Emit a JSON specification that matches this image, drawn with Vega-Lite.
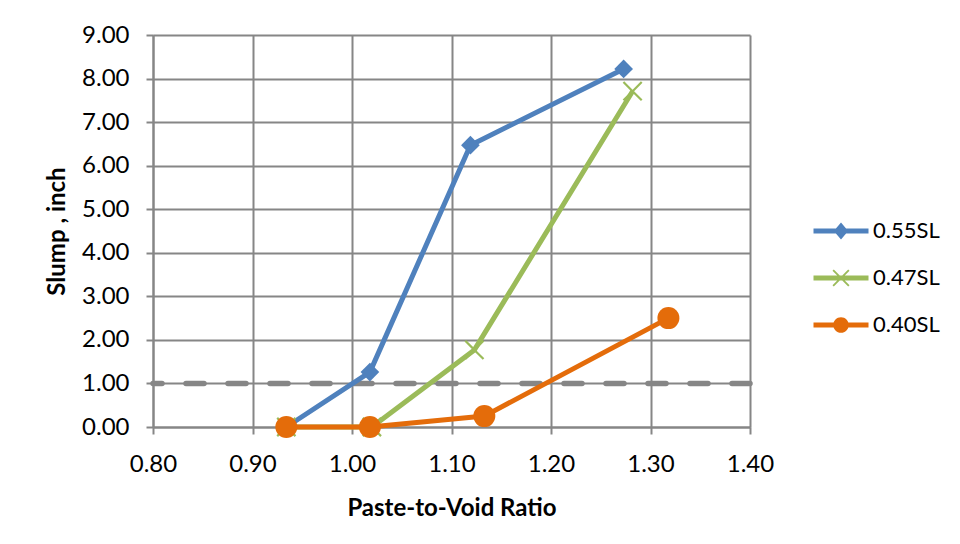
{
  "$schema": "https://vega.github.io/schema/vega-lite/v6.json",
  "width": 597,
  "height": 392,
  "autosize": {"type": "none"},
  "padding": {"left": 153, "top": 35, "right": 210, "bottom": 117},
  "background": "white",
  "config": {
    "view": {"stroke": null},
    "font": "Lato",
    "axis": {
      "grid": true,
      "gridColor": "#868686",
      "gridWidth": 2,
      "domainColor": "#868686",
      "domainWidth": 2,
      "tickColor": "#868686",
      "tickWidth": 2,
      "tickSize": 7,
      "labelFont": "Lato",
      "labelFontSize": 24,
      "labelColor": "#000000",
      "labelOverlap": false,
      "labelFlush": false,
      "labelBound": false,
      "titleFont": "Lato",
      "titleFontWeight": "bold",
      "titleFontSize": 24,
      "titleColor": "#000000"
    }
  },
  "datasets": {
    "slump": [
      {"series": "0.55SL", "ratio": 0.934, "slump": 0.0},
      {"series": "0.55SL", "ratio": 1.018, "slump": 1.26},
      {"series": "0.55SL", "ratio": 1.119, "slump": 6.47},
      {"series": "0.55SL", "ratio": 1.273, "slump": 8.22},
      {"series": "0.47SL", "ratio": 0.934, "slump": 0.0},
      {"series": "0.47SL", "ratio": 1.02, "slump": 0.0},
      {"series": "0.47SL", "ratio": 1.123, "slump": 1.77},
      {"series": "0.47SL", "ratio": 1.282, "slump": 7.71},
      {"series": "0.40SL", "ratio": 0.934, "slump": 0.0},
      {"series": "0.40SL", "ratio": 1.018, "slump": 0.0},
      {"series": "0.40SL", "ratio": 1.133, "slump": 0.25},
      {"series": "0.40SL", "ratio": 1.318, "slump": 2.5}
    ],
    "threshold": [{"slump": 1.0}]
  },
  "layer": [
    {
      "data": {"name": "threshold"},
      "mark": {"type": "rule", "color": "#868686", "strokeWidth": 5.5, "strokeDash": [18, 24], "strokeCap": "round"},
      "encoding": {
        "y": {"field": "slump", "type": "quantitative", "scale": {"domain": [0, 9]}}
      }
    },
    {
      "data": {"name": "slump"},
      "mark": {"type": "line", "strokeWidth": 5, "strokeJoin": "round"},
      "encoding": {
        "x": {
          "field": "ratio", "type": "quantitative",
          "scale": {"domain": [0.8, 1.4], "nice": false, "zero": false},
          "axis": {"values": [0.8, 0.9, 1.0, 1.1, 1.2, 1.3, 1.4], "format": ".2f", "labelPadding": 18, "titlePadding": 20, "title": "Paste-to-Void Ratio"}
        },
        "y": {
          "field": "slump", "type": "quantitative",
          "scale": {"domain": [0, 9], "nice": false},
          "axis": {"values": [0, 1, 2, 3, 4, 5, 6, 7, 8, 9], "format": ".2f", "labelPadding": 17, "titlePadding": 12, "title": "Slump , inch"}
        },
        "color": {
          "field": "series", "type": "nominal",
          "scale": {"domain": ["0.55SL", "0.47SL", "0.40SL"], "range": ["#4F81BD", "#9BBB59", "#E46C0A"]}
        }
      }
    },
    {
      "data": {"name": "slump"},
      "transform": [{"filter": "datum.series == '0.55SL'"}],
      "mark": {"type": "point", "filled": true, "opacity": 1, "size": 484, "strokeWidth": 0, "shape": "M0,-0.85L0.85,0L0,0.85L-0.85,0Z"},
      "encoding": {
        "x": {"field": "ratio", "type": "quantitative"},
        "y": {"field": "slump", "type": "quantitative"},
        "color": {"field": "series", "type": "nominal"}
      }
    },
    {
      "data": {"name": "slump"},
      "transform": [{"filter": "datum.series == '0.47SL'"}],
      "mark": {"type": "point", "filled": true, "opacity": 1, "size": 484, "strokeWidth": 0, "shape": "M-0.9,-0.76L-0.76,-0.9L0,-0.14L0.76,-0.9L0.9,-0.76L0.14,0L0.9,0.76L0.76,0.9L0,0.14L-0.76,0.9L-0.9,0.76L-0.14,0Z"},
      "encoding": {
        "x": {"field": "ratio", "type": "quantitative"},
        "y": {"field": "slump", "type": "quantitative"},
        "color": {"field": "series", "type": "nominal"}
      }
    },
    {
      "data": {"name": "slump"},
      "transform": [{"filter": "datum.series == '0.40SL'"}],
      "mark": {"type": "point", "filled": true, "opacity": 1, "size": 484, "strokeWidth": 0, "shape": "circle"},
      "encoding": {
        "x": {"field": "ratio", "type": "quantitative"},
        "y": {"field": "slump", "type": "quantitative"},
        "color": {"field": "series", "type": "nominal"}
      }
    },
    {
      "data": {"name": "slump"},
      "transform": [{"filter": "datum.series == 'none'"}],
      "mark": {"type": "point", "filled": true, "opacity": 1, "size": 400, "strokeWidth": 0},
      "encoding": {
        "x": {"field": "ratio", "type": "quantitative"},
        "y": {"field": "slump", "type": "quantitative"},
        "color": {
          "field": "series", "type": "nominal",
          "legend": {
            "title": null,
            "orient": "none",
            "legendX": 677,
            "legendY": 185,
            "padding": 0,
            "symbolSize": 400,
            "symbolStrokeWidth": 0,
            "labelOffset": 21,
            "rowPadding": 25,
            "labelFont": "Lato",
            "labelFontSize": 22,
            "labelColor": "#000000"
          }
        },
        "shape": {
          "field": "series", "type": "nominal",
          "scale": {
            "domain": ["0.55SL", "0.47SL", "0.40SL"],
            "range": [
              "M-2.75,-0.25L2.75,-0.25L2.75,0.25L-2.75,0.25Z M0,-0.85L0.72,0L0,0.85L-0.72,0Z",
              "M-2.75,-0.25L2.75,-0.25L2.75,0.25L-2.75,0.25Z M-0.85,-0.72L-0.72,-0.85L0,-0.13L0.72,-0.85L0.85,-0.72L0.13,0L0.85,0.72L0.72,0.85L0,0.13L-0.72,0.85L-0.85,0.72L-0.13,0Z",
              "M-2.75,-0.25L2.75,-0.25L2.75,0.25L-2.75,0.25Z M-0.78,0A0.78,0.78,0,1,1,0.78,0A0.78,0.78,0,1,1,-0.78,0Z"
            ]
          },
          "legend": {
            "title": null,
            "orient": "none",
            "legendX": 677,
            "legendY": 185,
            "padding": 0,
            "symbolSize": 400,
            "symbolStrokeWidth": 0,
            "labelOffset": 21,
            "rowPadding": 25,
            "labelFont": "Lato",
            "labelFontSize": 22,
            "labelColor": "#000000"
          }
        }
      }
    }
  ]
}
